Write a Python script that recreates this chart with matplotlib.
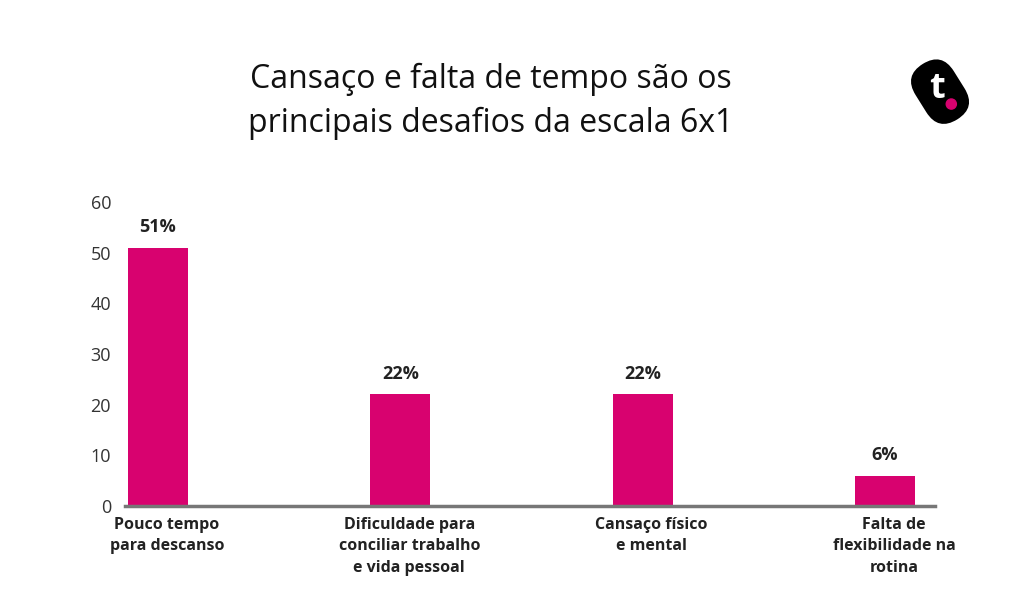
import matplotlib.pyplot as plt
from matplotlib.patches import FancyBboxPatch, Circle
import matplotlib.transforms as mtransforms

# chart data
categories = ['Pouco tempo\npara descanso',
              'Dificuldade para\nconciliar trabalho\ne vida pessoal',
              'Cansaço físico\ne mental',
              'Falta de\nflexibilidade na\nrotina']
values = [51, 22, 22, 6]
value_labels = ['51%', '22%', '22%', '6%']
yticks = [0, 10, 20, 30, 40, 50, 60]

pink = '#d8026f'
plt.rcParams['font.family'] = ['Open Sans', 'DejaVu Sans']

fig = plt.figure(figsize=(10.24, 6.14), dpi=100)
ax = fig.add_axes([0.122, 0.176, 0.791, 0.495])

x = range(len(values))
ax.bar(x, values, width=0.247, color=pink)
for xi, v, lab in zip(x, values, value_labels):
    ax.text(xi, v + 2.2, lab, ha='center', va='bottom', fontsize=13,
            fontweight='bold', color='#222222')

ax.set_xlim(-0.136, 3.206)
ax.set_ylim(0, 60)
ax.set_yticks(yticks)
ax.set_yticklabels([str(t) for t in yticks], fontsize=13, color='#333333')
ax.tick_params(axis='y', length=0, pad=10)
ax.set_xticks(list(x))
ax.set_xticklabels(categories, fontsize=11.5, fontweight='bold', color='#222222',
                   linespacing=1.45)
ax.tick_params(axis='x', length=0, pad=8)
# labels sit a little right of the bar centres
shift = mtransforms.ScaledTranslation(9 / 100, 0, fig.dpi_scale_trans)
for lbl in ax.get_xticklabels():
    lbl.set_transform(lbl.get_transform() + shift)
for s in ['top', 'right', 'left']:
    ax.spines[s].set_visible(False)
ax.spines['bottom'].set_color('#777777')
ax.spines['bottom'].set_linewidth(2.5)

fig.text(0.479, 0.835, 'Cansaço e falta de tempo são os\nprincipais desafios da escala 6x1',
         ha='center', va='center', fontsize=23, color='#111111', linespacing=1.45)

# logo
lax = fig.add_axes([0.863, 0.759, 0.11, 0.11 * 1024 / 614])
lax.set_xlim(-1, 1)
lax.set_ylim(-1, 1)
lax.set_aspect('equal')
lax.axis('off')
body = FancyBboxPatch((-0.58, -0.4), 1.16, 0.8, boxstyle='round,pad=0,rounding_size=0.4',
                      facecolor='black', edgecolor='none')
body.set_transform(mtransforms.Affine2D().rotate_deg(-58) + lax.transData)
lax.add_patch(body)
lax.text(-0.06, 0.04, 't', ha='center', va='center', color='white', fontsize=26,
         fontweight='bold')
lax.add_patch(Circle((0.2, -0.22), 0.09, color=pink))

fig.savefig('out.png', dpi=100, facecolor='white')
